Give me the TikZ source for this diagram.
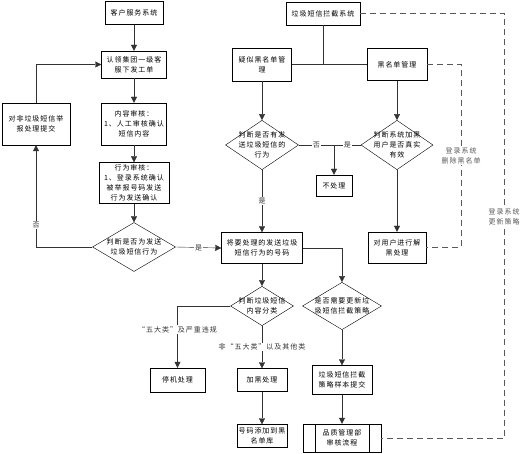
\documentclass[tikz,border=0pt]{standalone}
\usepackage{fontspec}
\usepackage{tikz}
\usetikzlibrary{shapes.geometric,arrows.meta}
\newfontfamily\cjk[LetterSpace=14]{Noto Sans CJK SC}

\begin{document}
\begin{tikzpicture}[x=1pt,y=-1pt,>={Triangle[length=6pt,width=6pt]},
  every node/.style={font=\cjk\fontsize{7}{10}\selectfont,align=center}]
\tikzstyle{Block}=[draw, inner sep=1pt];
\tikzstyle{Decide}=[draw, diamond, inner xsep=-8pt, inner ysep=-4pt];
\tikzstyle{seq} = [->, black!80];
\tikzstyle{plain} = [black!80];
\tikzstyle{dashline} = [black!65, dash pattern=on 6pt off 4pt];
\tikzstyle{lbl} = [fill=white, inner sep=1pt];
\useasboundingbox (0,0) rectangle (530,454);
% left column
\node [Block, minimum width=58, minimum height=23] (v1) at (134,13) {客户服务系统};
\node [Block, minimum width=65, minimum height=27] (v2) at (134,64.5) {认领集团一级客\\服下发工单};
\node [Block, minimum width=65, minimum height=42] (v3) at (134,124) {内容审核：\\1、人工审核确认\\短信内容};
\node [Block, minimum width=68, minimum height=42] (v4) at (36,124) {对非垃圾短信举\\报处理提交};
\node [Block, minimum width=70, minimum height=41] (v5) at (134,183) {行为审核：\\1、登录系统确认\\被举报号码发送\\行为发送确认};
\node [Decide, minimum width=83, minimum height=49] (d1) at (134,247) {判断是否为发送\\垃圾短信行为};
\draw [seq] (v1) -- (v2);
\draw [seq] (v2) -- (v3);
\draw [seq] (v3) -- (v5);
\draw [seq] (v5) -- (d1);
\draw [seq] (d1.west) -| node[lbl, pos=0.61] {否} (v4.south);
\draw [seq] (v4.north) |- (v2.west);
% right part
\node [Block, minimum width=74, minimum height=23] (s1) at (323,13.5) {垃圾短信拦截系统};
\node [Block, minimum width=59, minimum height=33] (s2) at (262,64.5) {疑似黑名单管\\理};
\node [Block, minimum width=60, minimum height=32] (s3) at (397,64.5) {黑名单管理};
\draw [plain] (s1.south) -- (s1.south |- s2.east);
\draw [plain] (s2.east) -- (s3.west);
\node [Decide, minimum width=73, minimum height=43] (d2) at (262,145) {判断是否有发\\送垃圾短信的\\行为};
\node [Decide, minimum width=72, minimum height=43] (d3) at (397,145) {判断系统加黑\\用户是否真实\\有效};
\draw [seq] (s2) -- (d2);
\draw [seq] (s3) -- (d3);
\node [Block, minimum width=36, minimum height=21] (v7) at (334,185.5) {不处理};
\draw [plain] (d2.east) -- node[lbl] {否} (v7.north |- d2.east);
\draw [plain] (d3.west) -- node[lbl] {是} (v7.north |- d3.west);
\draw [seq] (v7.north |- d2.east) -- (v7.north);
\node [Block, minimum width=81, minimum height=31] (v6) at (262,248) {将要处理的发送垃圾\\短信行为的号码};
\node [Block, minimum width=58, minimum height=31] (v8) at (397,247.5) {对用户进行解\\黑处理};
\draw [seq] (d2) -- node[lbl] {是} (v6);
\draw [seq] (d3) -- (v8);
\draw [seq] (d1.east) -- node[lbl] {是} (v6.west);
% lower part
\node [Decide, minimum width=63, minimum height=34] (d4) at (262,306) {判断垃圾短信\\内容分类};
\node [Decide, minimum width=79, minimum height=45] (d5) at (342,306) {是否需要更新垃\\圾短信拦截策略};
\draw [seq] (v6) -- (d4);
\draw [seq] (v6.east) -| (d5.north);
\node [Block, minimum width=55, minimum height=24] (v9) at (177.5,380) {停机处理};
\node [Block, minimum width=50, minimum height=23] (v10) at (262,380) {加黑处理};
\node [Block, minimum width=50, minimum height=23] (v11) at (262,436) {号码添加到黑\\名单库};
\draw [seq] (d4.west) -| node[lbl, pos=0.69] {“五大类”及严重违规} (v9.north);
\draw [seq] (d4) -- node[lbl] {非“五大类”以及其他类} (v10);
\draw [seq] (v10) -- (v11);
\node [Block, minimum width=60, minimum height=29] (v12) at (342,380) {垃圾短信拦截\\策略样本提交};
\node [Block, minimum width=78, minimum height=28] (v13) at (342,438) {品质管理部\\审核流程};
\draw ([xshift=12pt]v13.north west) -- ([xshift=12pt]v13.south west);
\draw ([xshift=-12pt]v13.north east) -- ([xshift=-12pt]v13.south east);
\draw [seq] (d5) -- (v12);
\draw [seq] (v12) -- (v13);
% dashed feedback
\draw [dashline] (s3.east) -- ++(34,0) |- node[lbl, pos=0.25] {登录系统\\删除黑名单} (v8.east);
\draw [dashline] (s1.east) -- ++(144,0) |- node[lbl, pos=0.24] {登录系统\\更新策略} (v13.east);
\end{tikzpicture}
\end{document}
